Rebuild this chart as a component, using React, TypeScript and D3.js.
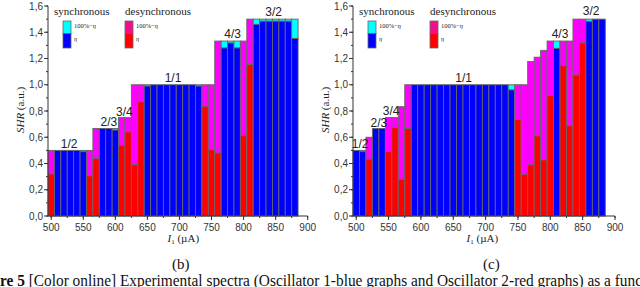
import React from 'react';
import * as d3 from 'd3';

// x categories (bias current, µA), shared by both panels
const currents = [500, 510, 520, 530, 540, 550, 560, 570, 580, 590, 600, 610, 620, 630, 640, 650, 660, 670, 680, 690,
    700, 710, 720, 730, 740, 750, 760, 770, 780, 790, 800, 810, 820, 830, 840, 850, 860, 870, 880];

// panel (b): S = synchronous, D = desynchronous
const bType = ['D', 'S', 'S', 'S', 'S', 'S', 'D', 'D', 'S', 'S', 'S', 'D', 'D', 'D', 'D', 'S', 'S', 'S', 'S', 'S',
    'S', 'S', 'S', 'S', 'D', 'D', 'D', 'S', 'S', 'S', 'D', 'D', 'S', 'S', 'S', 'S', 'S', 'S', 'S'];
const bTotal = [0.5, 0.5, 0.5, 0.5, 0.5, 0.5, 0.5, 0.667, 0.667, 0.667, 0.667, 0.75, 0.75, 1, 1, 1, 1, 1, 1, 1,
    1, 1, 1, 1, 1, 1, 1.333, 1.333, 1.333, 1.333, 1.333, 1.5, 1.5, 1.5, 1.5, 1.5, 1.5, 1.5, 1.5];
const bEta = [0.32, 0.5, 0.5, 0.5, 0.5, 0.49, 0.306, 0.436, 0.667, 0.667, 0.655, 0.538, 0.64, 0.39, 0.87, 0.99, 1, 1, 1, 1,
    1, 1, 1, 0.99, 0.836, 0.505, 0.48, 1.28, 1.318, 1.28, 0.612, 1.153, 1.46, 1.484, 1.484, 1.484, 1.484, 1.484, 1.352];

// panel (c)
const cType = ['S', 'S', 'D', 'S', 'S', 'D', 'D', 'D', 'D', 'S', 'S', 'S', 'S', 'S', 'S', 'S', 'S', 'S', 'S', 'S',
    'S', 'S', 'S', 'S', 'S', 'D', 'D', 'D', 'D', 'D', 'D', 'S', 'D', 'D', 'D', 'D', 'S', 'S', 'S'];
const cTotal = [0.5, 0.5, 0.6, 0.667, 0.667, 0.75, 0.75, 0.833, 1, 1, 1, 1, 1, 1, 1, 1, 1, 1, 1, 1,
    1, 1, 1, 1, 1, 1, 1, 1.177, 1.21, 1.262, 1.333, 1.333, 1.333, 1.333, 1.5, 1.5, 1.5, 1.5, 1.5];
const cEta = [0.5, 0.49, 0.433, 0.667, 0.667, 0.49, 0.674, 0.28, 0.666, 1, 1, 1, 1, 1, 1, 1, 1, 1, 1, 1,
    1, 1, 1, 1, 0.96, 0.735, 0.318, 0.389, 0.61, 0.427, 0.916, 1.277, 1.145, 0.687, 1.074, 1.318, 1.483, 1.5, 1.5];

// frequency ratio annotations (position in data units)
const bRatios = [
    { text: '1/2', at: 528, v: 0.515 },
    { text: '2/3', at: 590, v: 0.685 },
    { text: '3/4', at: 614, v: 0.76 },
    { text: '1/1', at: 690, v: 1.02 },
    { text: '4/3', at: 783, v: 1.36 },
    { text: '3/2', at: 847, v: 1.525 },
];
const cRatios = [
    { text: '1/2', at: 506, v: 0.515 },
    { text: '2/3', at: 535, v: 0.68 },
    { text: '3/4', at: 554, v: 0.77 },
    { text: '1/1', at: 666, v: 1.02 },
    { text: '4/3', at: 815, v: 1.36 },
    { text: '3/2', at: 863, v: 1.53 },
];

const yTicks = [0, 0.2, 0.4, 0.6, 0.8, 1.0, 1.2, 1.4, 1.6];
const xTicks = [500, 550, 600, 650, 700, 750, 800, 850, 900];

const BLUE = '#0000ff';
const CYAN = '#00ffff';
const RED = '#ff0000';
const MAGENTA = '#ff00ff';
const EDGE = '#666';
const sans = 'Liberation Sans, Arial, sans-serif';
const serif = 'Liberation Serif, Times New Roman, serif';

const fmt = (v) => d3.format('.1f')(v).replace('.', ',');

const Legend = ({ x0, title, top, bottom, swX }) => (
    <g>
        <text x={x0} y={15} fontFamily={serif} fontSize={11} fill="#222">{title}</text>
        <rect x={swX} y={21} width={8} height={12.5} fill={top} stroke={EDGE} strokeWidth={0.8} />
        <rect x={swX} y={33.5} width={8} height={14.5} fill={bottom} stroke={EDGE} strokeWidth={0.8} />
        <text x={swX + 11} y={28} fontFamily={serif} fontSize={6.5} fill="#222">
            100%−<tspan fontStyle="italic">η</tspan>
        </text>
        <text x={swX + 11} y={41} fontFamily={serif} fontSize={6.5} fontStyle="italic" fill="#222">η</text>
    </g>
);

const Panel = ({ left, right, type, total, eta, ratios, tag, tagAt, labelAt }) => {
    const x = d3.scaleLinear().domain([495, 900]).range([left, right]);
    const y = d3.scaleLinear().domain([0, 1.6]).range([216, 6]);
    const bw = x(510) - x(500);
    const minorY = d3.range(0, 1.61, 0.1);
    const minorX = d3.range(500, 901, 25);

    return (
        <g>
            {/* bars */}
            {currents.map((c, i) => {
                const sync = type[i] === 'S';
                const x0 = x(c) - bw / 2;
                return (
                    <g key={c} stroke={EDGE} strokeWidth={0.9}>
                        <rect x={x0} width={bw} y={y(total[i])} height={y(eta[i]) - y(total[i])}
                            fill={sync ? CYAN : MAGENTA} />
                        <rect x={x0} width={bw} y={y(eta[i])} height={y(0) - y(eta[i])}
                            fill={sync ? BLUE : RED} />
                    </g>
                );
            })}

            {/* ratio labels */}
            {ratios.map((r) => (
                <text key={r.text} x={x(r.at)} y={y(r.v)} textAnchor="middle" fontFamily={sans}
                    fontSize={12} fill="#222">{r.text}</text>
            ))}

            {/* y axis */}
            <line x1={left} x2={left} y1={y(0)} y2={y(1.6)} stroke="#333" />
            {minorY.map((v) => (
                <line key={v} x1={left - 2} x2={left} y1={y(v)} y2={y(v)} stroke="#333" />
            ))}
            {yTicks.map((v) => (
                <g key={v}>
                    <line x1={left - 4} x2={left} y1={y(v)} y2={y(v)} stroke="#333" />
                    <text x={left - 5} y={y(v) + 3.5} textAnchor="end" fontFamily={sans} fontSize={10}
                        fill="#333">{fmt(v)}</text>
                </g>
            ))}

            {/* x axis */}
            <line x1={left} x2={right} y1={y(0)} y2={y(0)} stroke="#333" />
            {minorX.map((v) => (
                <line key={v} x1={x(v)} x2={x(v)} y1={y(0)} y2={y(0) + 2} stroke="#333" />
            ))}
            {xTicks.map((v) => (
                <g key={v}>
                    <line x1={x(v)} x2={x(v)} y1={y(0)} y2={y(0) + 4} stroke="#333" />
                    <text x={x(v)} y={231} textAnchor="middle" fontFamily={sans} fontSize={10}
                        fill="#333">{v}</text>
                </g>
            ))}

            {/* axis titles */}
            <text transform={`translate(${left - 24},110) rotate(-90)`} textAnchor="middle"
                fontFamily={serif} fontSize={11} fill="#222">
                <tspan fontStyle="italic">SHR</tspan> (a.u.)
            </text>
            <text x={x(labelAt)} y={242} textAnchor="middle" fontFamily={serif} fontSize={11} fill="#222">
                <tspan fontStyle="italic">I</tspan>
                <tspan fontSize={7} dy={2}>1</tspan>
                <tspan dy={-2}> (µA)</tspan>
            </text>
            <text x={x(tagAt)} y={269} textAnchor="middle" fontFamily={serif} fontSize={15} fill="#111">{tag}</text>

            {/* legend */}
            <Legend x0={left + 6} title="synchronous" top={CYAN} bottom={BLUE} swX={left + 15} />
            <Legend x0={left + 77} title="desynchronous" top="#f0108a" bottom={RED} swX={left + 77} />
        </g>
    );
};

export default function App() {
    return (
        <svg width={640} height={287} style={{ position: 'absolute', left: 0, top: 0, background: '#fff' }}>
            <rect width={640} height={287} fill="#fff" />
            <Panel left={48} right={307.7} type={bType} total={bTotal} eta={bEta} ratios={bRatios}
                tag="(b)" tagAt={702} labelAt={706} />
            <Panel left={353} right={615} type={cType} total={cTotal} eta={cEta} ratios={cRatios}
                tag="(c)" tagAt={709} labelAt={695} />
            <text x={0} y={286} fontFamily={serif} fontSize={16.5} fill="#111" textLength={642}
                lengthAdjust="spacingAndGlyphs">
                <tspan fontWeight="bold">re 5</tspan> [Color online] Experimental spectra (Oscillator 1-blue graphs
                and Oscillator 2-red graphs) as a func
            </text>
        </svg>
    );
}
